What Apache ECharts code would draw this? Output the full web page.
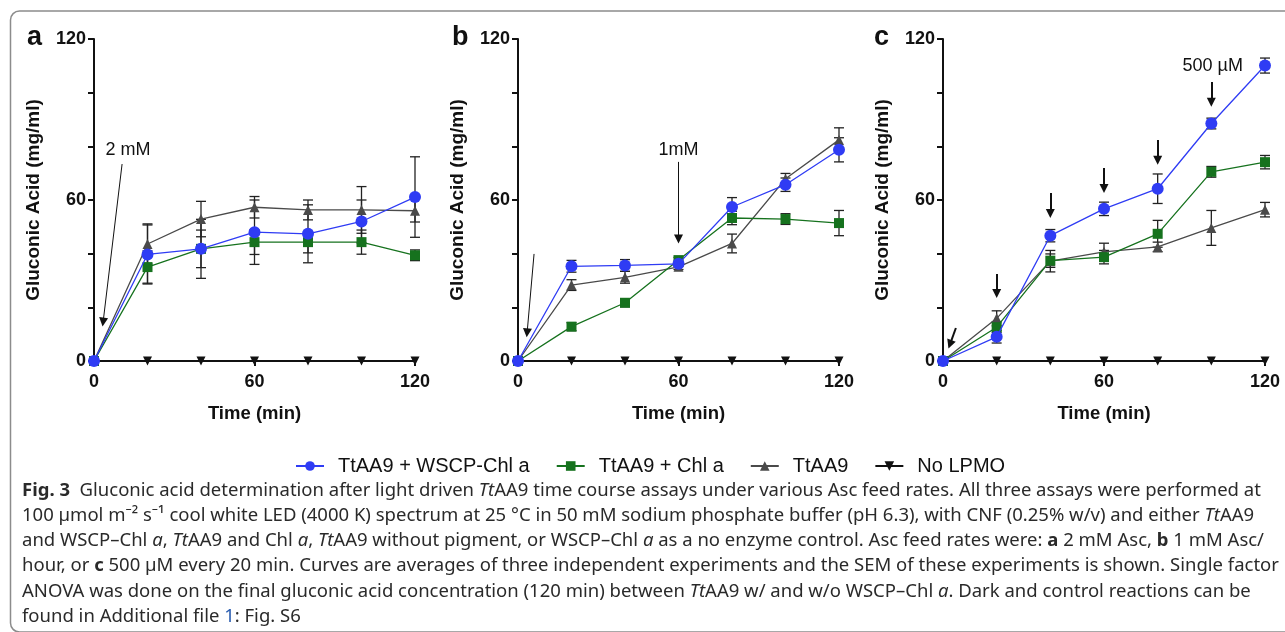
<!DOCTYPE html>
<html>
<head>
<meta charset="utf-8">
<script src="https://cdn.jsdelivr.net/npm/echarts@6/dist/echarts.min.js"></script>
<style>
  html, body { margin: 0; padding: 0; background: #fff; }
  #fig { width: 1285px; height: 632px; }
</style>
</head>
<body>
<div id="fig"></div>
<script>
// sampling times (min)
var times = [0, 20, 40, 60, 80, 100, 120];
var seriesNames = ['TtAA9 + WSCP-Chl a', 'TtAA9 + Chl a', 'TtAA9', 'No LPMO'];
var yTickLabels = [0, 60, 120];
var xTickLabels = [0, 60, 120];

// panel a - 2 mM Asc
var aBlue = [0, 39.7, 41.8, 48.0, 47.4, 52.0, 61.1];
var aBlueErr = [0, 11, 11, 12, 10.8, 8, 15];
var aGreen = [0, 35.0, 41.8, 44.3, 44.3, 44.3, 39.4];
var aGreenErr = [0, 6, 7, 4.6, 4, 4.5, 2];
var aGray = [0, 43.6, 52.9, 57.3, 56.3, 56.3, 56.0];
var aGrayErr = [0, 7.5, 6.6, 4, 3.7, 8.7, 4.2];

// panel b - 1 mM Asc/hour
var bBlue = [0, 35.3, 35.6, 36.2, 57.4, 65.7, 78.7];
var bBlueErr = [0, 2.2, 2.2, 1, 3.5, 2.5, 4.5];
var bGreen = [0, 12.8, 21.7, 37.6, 53.3, 52.9, 51.4];
var bGreenErr = [0, 1.5, 1.5, 1, 2.5, 2, 4.7];
var bGray = [0, 28.3, 31.2, 35.1, 43.8, 67.9, 82.4];
var bGrayErr = [0, 2, 2.2, 1, 3.5, 2, 4.5];

// panel c - 500 uM every 20 min
var cBlue = [0, 9.0, 46.7, 56.7, 64.2, 88.5, 110.1];
var cBlueErr = [0, 2.3, 2.3, 2.5, 5.5, 2, 2.8];
var cGreen = [0, 12.6, 37.4, 38.7, 47.4, 70.5, 74.1];
var cGreenErr = [0, 2, 2.5, 2.5, 5, 2, 2.5];
var cGray = [0, 15.9, 37.2, 40.7, 42.5, 49.6, 56.4];
var cGrayErr = [0, 2.8, 4, 3.2, 1.8, 6.5, 2.7];

var noLpmo = [0, 0, 0, 0, 0, 0, 0];

// feed arrows, in data units [from, to]
var aArrows = [[[10.5, 73.4], [3.4, 14.5]]];
var bArrows = [[[6, 39.9], [3.4, 10.5]], [[60, 74.2], [60, 45.5]]];
var cArrows = [[[4.8, 12.3], [2.6, 6.2]], [[20, 32.4], [20, 25.2]], [[40, 62.6], [40, 55]],
               [[60, 71.9], [60, 64.3]], [[80, 82.4], [80, 74.8]], [[100, 104], [100, 96.4]]];
var aNotes = [['2 mM', 12.7, 78.6]];
var bNotes = [['1mM', 60, 78.6]];
var cNotes = [['500 µM', 100.5, 110]];

var font = 'Liberation Sans, Arial, sans-serif';
var colors = ['#2f3cf4', '#16721e', '#4a4a4a', '#111111'];
var symbols = ['circle', 'rect', 'triangle', 'triangle'];
var lefts = [94, 518, 943];

function pairs(ys) {
  return times.map(function (t, i) { return [t, ys[i]]; });
}
function errData(ys, es) {
  var out = [];
  times.forEach(function (t, i) {
    if (es[i] > 0) out.push([t, ys[i] - es[i], ys[i] + es[i]]);
  });
  return out;
}

function renderErr(params, api) {
  var x = api.value(0);
  var top = api.coord([x, api.value(2)]);
  var bot = api.coord([x, api.value(1)]);
  var w = 5;
  var st = { stroke: '#222', lineWidth: 1.3 };
  return {
    type: 'group',
    children: [
      { type: 'line', shape: { x1: top[0], y1: top[1], x2: bot[0], y2: bot[1] }, style: st },
      { type: 'line', shape: { x1: top[0] - w, y1: top[1], x2: top[0] + w, y2: top[1] }, style: st },
      { type: 'line', shape: { x1: bot[0] - w, y1: bot[1], x2: bot[0] + w, y2: bot[1] }, style: st }
    ]
  };
}

var grids = [], xAxes = [], yAxes = [], series = [];
var panels = [
  { vals: [aBlue, aGreen, aGray], errs: [aBlueErr, aGreenErr, aGrayErr], arrows: aArrows, notes: aNotes, arrowW: 1 },
  { vals: [bBlue, bGreen, bGray], errs: [bBlueErr, bGreenErr, bGrayErr], arrows: bArrows, notes: bNotes, arrowW: 1 },
  { vals: [cBlue, cGreen, cGray], errs: [cBlueErr, cGreenErr, cGrayErr], arrows: cArrows, notes: cNotes, arrowW: 2 }
];

panels.forEach(function (p, k) {
  grids.push({ left: lefts[k], top: 39, width: k == 2 ? 322 : 321, height: 322 });
  xAxes.push({
    gridIndex: k, type: 'value', min: 0, max: 120, interval: 60,
    name: 'Time (min)', nameLocation: 'middle', nameGap: 43,
    nameTextStyle: { fontFamily: font, fontWeight: 'bold', fontSize: 18.5, color: '#111' },
    axisLine: { lineStyle: { color: '#111', width: 2 } },
    axisTick: { length: 5, lineStyle: { color: '#111', width: 2 } },
    axisLabel: { fontFamily: font, fontWeight: 'bold', fontSize: 18, color: '#111', margin: 12,
      formatter: function (v) { return xTickLabels.indexOf(v) >= 0 ? v : ''; } },
    splitLine: { show: false }
  });
  yAxes.push({
    gridIndex: k, type: 'value', min: 0, max: 120, interval: 20,
    name: 'Gluconic Acid (mg/ml)', nameLocation: 'middle', nameGap: 51, nameRotate: 90,
    nameTextStyle: { fontFamily: font, fontWeight: 'bold', fontSize: 19, color: '#111' },
    axisLine: { show: true, lineStyle: { color: '#111', width: 2 } },
    axisTick: { show: true, length: 6, lineStyle: { color: '#111', width: 2 } },
    axisLabel: { fontFamily: font, fontWeight: 'bold', fontSize: 18, color: '#111', margin: 8,
      formatter: function (v) { return yTickLabels.indexOf(v) >= 0 ? v : ''; } },
    splitLine: { show: false }
  });

  // No LPMO first (bottom), carries the feed arrows and notes
  series.push({
    name: seriesNames[3], type: 'line', xAxisIndex: k, yAxisIndex: k,
    data: pairs(noLpmo), symbol: 'triangle', symbolRotate: 180, symbolSize: 9,
    itemStyle: { color: colors[3] }, lineStyle: { color: colors[3], width: 2 },
    z: 2,
    markLine: {
      silent: true, symbol: ['none', 'triangle'], symbolSize: 9,
      label: { show: false },
      lineStyle: { color: '#111', width: p.arrowW, type: 'solid' },
      data: p.arrows.map(function (a) { return [{ coord: a[0] }, { coord: a[1] }]; })
    },
    markPoint: {
      silent: true, symbol: 'rect', symbolSize: 1,
      itemStyle: { color: 'rgba(0,0,0,0)' },
      label: { show: true, position: 'inside', formatter: '{b}', color: '#111',
        fontFamily: font, fontSize: 18 },
      data: p.notes.map(function (n) { return { name: n[0], coord: [n[1], n[2]] }; })
    }
  });
  [2, 1, 0].forEach(function (j) {
    series.push({
      type: 'custom', xAxisIndex: k, yAxisIndex: k, renderItem: renderErr,
      data: errData(p.vals[j], p.errs[j]), encode: { x: 0, y: [1, 2] }, z: 3, silent: true
    });
  });
  [2, 1, 0].forEach(function (j) {
    series.push({
      name: seriesNames[j], type: 'line', xAxisIndex: k, yAxisIndex: k,
      data: pairs(p.vals[j]), symbol: symbols[j], symbolSize: j == 0 ? 12 : 10,
      itemStyle: { color: colors[j] }, lineStyle: { color: colors[j], width: 1.3 },
      z: 4 + (2 - j)
    });
  });
});

var caption =
  '{b|Fig. 3}  Gluconic acid determination after light driven {i|Tt}AA9 time course assays under various Asc feed rates. All three assays were performed at\n' +
  '100 µmol m⁻² s⁻¹ cool white LED (4000 K) spectrum at 25 °C in 50 mM sodium phosphate buffer (pH 6.3), with CNF (0.25% w/v) and either {i|Tt}AA9\n' +
  'and WSCP–Chl {i|a}, {i|Tt}AA9 and Chl {i|a}, {i|Tt}AA9 without pigment, or WSCP–Chl {i|a} as a no enzyme control. Asc feed rates were: {b|a} 2 mM Asc, {b|b} 1 mM Asc/\n' +
  'hour, or {b|c} 500 µM every 20 min. Curves are averages of three independent experiments and the SEM of these experiments is shown. Single factor\n' +
  'ANOVA was done on the final gluconic acid concentration (120 min) between {i|Tt}AA9 w/ and w/o WSCP–Chl {i|a}. Dark and control reactions can be\n' +
  'found in Additional file {l|1}: Fig. S6';

var capFont = 'Noto Sans, sans-serif';
var capSize = 18.5;
var capColor = '#2a2a2a';
var chart = echarts.init(document.getElementById('fig'));
chart.setOption({
  animation: false,
  backgroundColor: '#fff',
  grid: grids,
  xAxis: xAxes,
  yAxis: yAxes,
  legend: {
    data: seriesNames, top: 451, left: 290,
    itemWidth: 28, itemHeight: 12, itemGap: 26,
    textStyle: { fontFamily: font, fontSize: 20, color: '#111', padding: [0, 0, 0, 9] }
  },
  series: series,
  graphic: [
    { type: 'rect', silent: true, shape: { x: 10.5, y: 11, width: 1300, height: 621, r: 9 },
      style: { fill: 'none', stroke: '#8c8c8c', lineWidth: 1.5 } },
    { type: 'text', left: 27, top: 24, style: { text: 'a', font: 'bold 27px ' + font, fill: '#111' } },
    { type: 'text', left: 452, top: 24, style: { text: 'b', font: 'bold 27px ' + font, fill: '#111' } },
    { type: 'text', left: 874, top: 24, style: { text: 'c', font: 'bold 27px ' + font, fill: '#111' } },
    { type: 'text', left: 22, top: 478, style: {
        text: caption, fontFamily: capFont, fontSize: capSize, lineHeight: 25.2, fill: capColor,
        rich: {
          b: { fontFamily: capFont, fontSize: capSize, fontWeight: 'bold', fill: capColor, lineHeight: 25.2 },
          i: { fontFamily: capFont, fontSize: capSize, fontStyle: 'italic', fill: capColor, lineHeight: 25.2 },
          l: { fontFamily: capFont, fontSize: capSize, fill: '#2a5db0', lineHeight: 25.2 }
        }
      } }
  ]
});
</script>
</body>
</html>
